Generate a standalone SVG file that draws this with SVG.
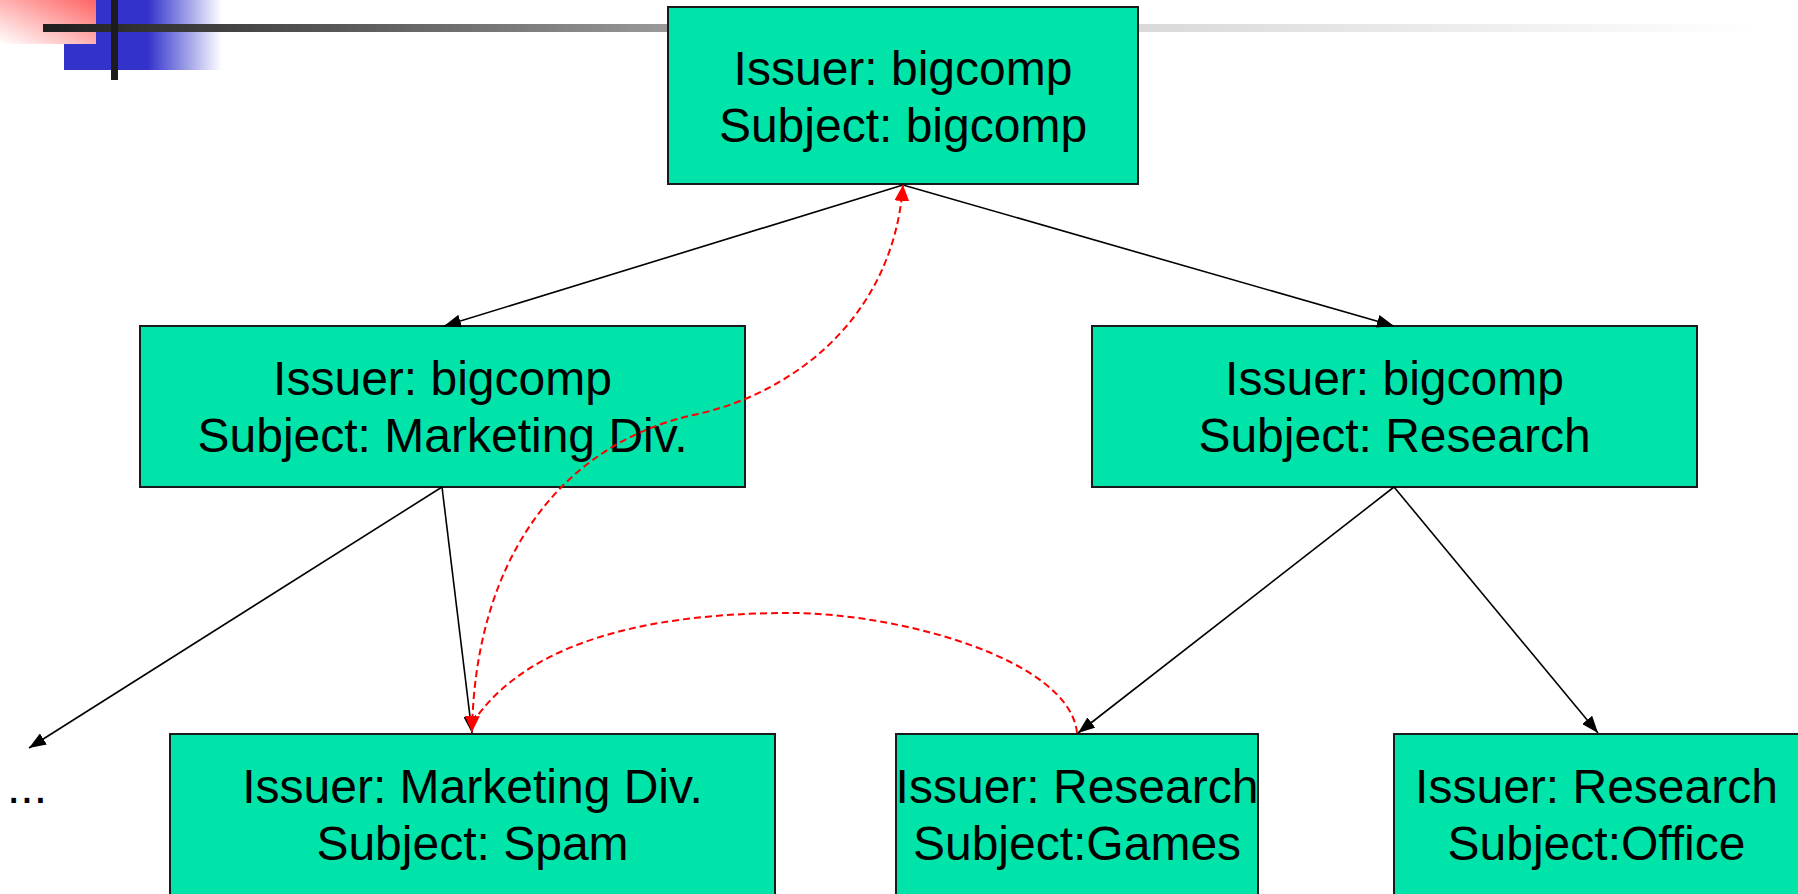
<svg xmlns="http://www.w3.org/2000/svg" width="1798" height="894" viewBox="0 0 1798 894">
  <style>
    .box { fill: #00E4AA; stroke: #1a1a1a; stroke-width: 2; }
    .label { font-family: "Liberation Sans", Arial, sans-serif; font-size: 48px; fill: #000; text-anchor: middle; }
    .edge { fill: none; stroke: #000; stroke-width: 1.6; marker-end: url(#arrow-black); }
    .trust { fill: none; stroke: #FF0000; stroke-width: 2; stroke-dasharray: 7 4; }
  </style>
  <defs>
    <linearGradient id="bar-fade" gradientUnits="userSpaceOnUse" x1="43" y1="0" x2="1760" y2="0">
      <stop offset="0" stop-color="#1e1e1e"/>
      <stop offset="0.364" stop-color="#999999"/>
      <stop offset="0.638" stop-color="#d9d9d9"/>
      <stop offset="1" stop-color="#ffffff"/>
    </linearGradient>
    <linearGradient id="blue-fade" x1="0" y1="0" x2="1" y2="0">
      <stop offset="0" stop-color="#3333CC"/>
      <stop offset="0.53" stop-color="#3333CC"/>
      <stop offset="1" stop-color="#ffffff"/>
    </linearGradient>
    <linearGradient id="red-fade" x1="1" y1="0" x2="0" y2="1">
      <stop offset="0" stop-color="#ff6464"/>
      <stop offset="1" stop-color="#ffffff"/>
    </linearGradient>
    <marker id="arrow-black" markerUnits="userSpaceOnUse" markerWidth="17" markerHeight="13" viewBox="0 0 17 13" refX="17" refY="6.5" orient="auto">
      <path d="M0,0 L17,6.5 L0,13 Z" fill="#000"/>
    </marker>
    <marker id="arrow-red" markerUnits="userSpaceOnUse" markerWidth="16" markerHeight="15" viewBox="0 0 16 15" refX="16" refY="7.5" orient="auto-start-reverse">
      <path d="M0,0 L16,7.5 L0,15 Z" fill="#FF0000"/>
    </marker>
  </defs>

  <!-- corner ornament and header rule -->
  <g id="header">
    <rect x="64" y="0" width="158" height="70" fill="url(#blue-fade)"/>
    <rect x="0" y="0" width="96" height="44" fill="url(#red-fade)"/>
    <rect x="43" y="24" width="1717" height="8" fill="url(#bar-fade)"/>
    <rect x="111" y="0" width="7" height="80" fill="#1c1c1c"/>
  </g>

  <g id="node-root">
    <rect class="box" x="668" y="7" width="470" height="177"/>
    <text class="label" x="903" y="85">Issuer: bigcomp</text>
    <text class="label" x="903" y="142">Subject: bigcomp</text>
  </g>

  <g id="node-marketing">
    <rect class="box" x="140" y="326" width="605" height="161"/>
    <text class="label" x="442.5" y="395">Issuer: bigcomp</text>
    <text class="label" x="442.5" y="452">Subject: Marketing Div.</text>
  </g>

  <g id="node-research">
    <rect class="box" x="1092" y="326" width="605" height="161"/>
    <text class="label" x="1394.5" y="395">Issuer: bigcomp</text>
    <text class="label" x="1394.5" y="452">Subject: Research</text>
  </g>

  <g id="node-spam">
    <rect class="box" x="170" y="734" width="605" height="200"/>
    <text class="label" x="472.5" y="803">Issuer: Marketing Div.</text>
    <text class="label" x="472.5" y="860">Subject: Spam</text>
  </g>

  <g id="node-games">
    <rect class="box" x="896" y="734" width="362" height="200"/>
    <text class="label" x="1077" y="803">Issuer: Research</text>
    <text class="label" x="1077" y="860">Subject:Games</text>
  </g>

  <g id="node-office">
    <rect class="box" x="1394" y="734" width="605" height="200"/>
    <text class="label" x="1596.5" y="803">Issuer: Research</text>
    <text class="label" x="1596.5" y="860">Subject:Office</text>
  </g>

  <g id="node-more">
    <text x="7" y="803" font-family="Liberation Sans, Arial, sans-serif" font-size="48" fill="#000">...</text>
  </g>

  <g id="connectors">
    <path class="edge" d="M903,185 L444,326"/>
    <path class="edge" d="M903,185 L1394,326"/>
    <path class="edge" d="M442,487 L29,748"/>
    <path class="edge" d="M442,487 L472,733"/>
    <path class="edge" d="M1394,487 L1078,733"/>
    <path class="edge" d="M1394,487 L1598,733"/>
    <path class="trust" d="M472,732 C475,560 560,445 693,415 C790,395 893,320 903,185" marker-start="url(#arrow-red)" marker-end="url(#arrow-red)"/>
    <path class="trust" d="M1077,733 C1070,660 900,613 790,613 C680,613 535,630 473,722"/>
  </g>
</svg>
